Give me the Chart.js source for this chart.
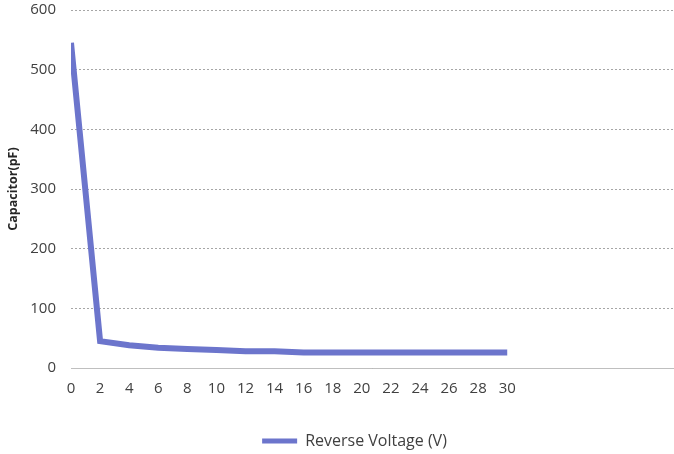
<!DOCTYPE html>
<html>
<head>
<meta charset="utf-8">
<script src="https://cdn.jsdelivr.net/npm/chart.js@4.4.0/dist/chart.umd.min.js"></script>
<style>
  html, body { margin: 0; padding: 0; background: #fff; overflow: hidden; }
  canvas { display: block; }
</style>
</head>
<body>
<canvas id="chart" width="674" height="454"></canvas>
<script>
// reverse voltage (V) vs capacitance (pF)
const voltages = [0, 2, 4, 6, 8, 10, 12, 14, 16, 18, 20, 22, 24, 26, 28, 30];
const capacitance = [545, 45, 38, 34, 32, 30, 28, 28, 26, 26, 26, 26, 26, 26, 26, 26];
const yTicks = [0, 100, 200, 300, 400, 500, 600];
const seriesName = 'Reverse Voltage (V)';
const yTitle = 'Capacitor(pF)';

const points = voltages.map((v, i) => ({ x: v, y: capacitance[i] }));
const lineColor = 'rgb(108, 117, 204)';
const textColor = '#404040';

Chart.defaults.font.family = "'Open Sans', sans-serif";
Chart.defaults.color = textColor;

// the legend in the original sits a little right of centre
const legendShift = {
    id: 'legendShift',
    afterLayout: (chart) => {
        chart.legend.left += 15;
        chart.legend.right += 15;
    },
};

const ctx = document.getElementById('chart').getContext('2d');
new Chart(ctx, {
    type: 'line',
    data: {
        datasets: [{
            label: seriesName,
            data: points,
            borderColor: lineColor,
            backgroundColor: lineColor,
            borderWidth: 6,
            pointRadius: 0,
            tension: 0,
            fill: false,
        }],
    },
    plugins: [legendShift],
    options: {
        responsive: false,
        animation: false,
        devicePixelRatio: 1,
        layout: { autoPadding: false, padding: { left: 6, right: 1, top: 0, bottom: -5 } },
        plugins: {
            legend: {
                position: 'bottom',
                labels: {
                    boxWidth: 35,
                    boxHeight: 5,
                    padding: 23,
                    font: { size: 16 },
                    color: textColor,
                    generateLabels: (chart) => {
                        const items = Chart.defaults.plugins.legend.labels.generateLabels(chart);
                        items.forEach(it => { it.lineWidth = 0; });
                        return items;
                    },
                },
            },
            tooltip: { enabled: false },
        },
        scales: {
            x: {
                type: 'linear',
                min: 0,
                max: 41.4,
                afterBuildTicks: (axis) => {
                    axis.ticks = voltages.map(v => ({ value: v }));
                },
                ticks: {
                    autoSkip: false,
                    maxRotation: 0,
                    font: { size: 15 },
                    padding: 12,
                    color: textColor,
                },
                grid: { display: false, drawTicks: false },
                border: { display: true, color: '#bfbfbf', width: 1 },
            },
            y: {
                min: 0,
                max: 600,
                afterBuildTicks: (axis) => {
                    axis.ticks = yTicks.map(v => ({ value: v }));
                },
                afterFit: (axis) => {
                    axis.width = 65;
                    axis.paddingTop = 10;
                },
                ticks: {
                    font: { size: 15 },
                    padding: 15,
                    color: textColor,
                },
                title: {
                    display: true,
                    text: yTitle,
                    font: { size: 12.5, weight: 'bold' },
                    color: '#262626',
                    padding: { top: 0, bottom: 0 },
                },
                grid: {
                    drawTicks: false,
                    color: '#a6a6a6',
                    lineWidth: 1,
                },
                border: { display: false, dash: [2, 2] },
            },
        },
    },
});
</script>
</body>
</html>
